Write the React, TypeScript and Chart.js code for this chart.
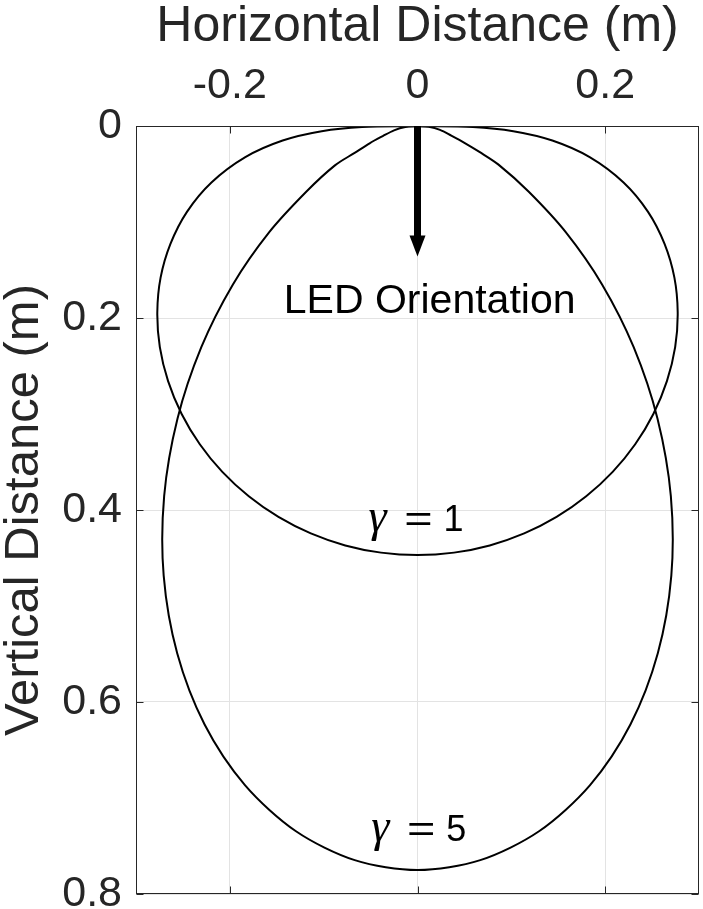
import React, { useEffect, useRef } from 'react';
import { Chart, registerables } from 'chart.js';

Chart.register(...registerables);

// ---- axes ----
const X_TICKS = [-0.2, 0, 0.2];
const Y_TICKS = [0, 0.2, 0.4, 0.6, 0.8];
const X_MIN = -0.3;
const X_MAX = 0.3;
const Y_MIN = 0;
const Y_MAX = 0.8;

// ---- gamma = 1 contour ----
const GAMMA1_X = [
  0, 0.059, 0.1021, 0.1437, 0.1835, 0.2196, 0.2457, 0.2633, 0.2738, 0.2773, 0.2746,
  0.2658, 0.2515, 0.232, 0.208, 0.1798, 0.1482, 0.1137, 0.077, 0.0389, 0,
  -0.0389, -0.077, -0.1137, -0.1482, -0.1798, -0.208, -0.232, -0.2515, -0.2658, -0.2746,
  -0.2773, -0.2738, -0.2633, -0.2457, -0.2196, -0.1835, -0.1437, -0.1021, -0.059, 0,
];
const GAMMA1_Y = [
  0, 0.001, 0.0054, 0.0151, 0.0324, 0.0588, 0.0894, 0.1228, 0.158, 0.1942, 0.2304,
  0.2658, 0.2997, 0.3315, 0.3603, 0.3857, 0.4072, 0.4244, 0.4369, 0.4444, 0.447,
  0.4444, 0.4369, 0.4244, 0.4072, 0.3857, 0.3603, 0.3315, 0.2997, 0.2658, 0.2304,
  0.1942, 0.158, 0.1228, 0.0894, 0.0588, 0.0324, 0.0151, 0.0054, 0.001, 0,
];

// ---- gamma = 5 contour ----
const GAMMA5_X = [
  0, 0.012, 0.024, 0.036, 0.05, 0.066, 0.086, 0.1186, 0.1582, 0.1967, 0.2304,
  0.2558, 0.27, 0.2705, 0.2561, 0.2269, 0.1839, 0.1295, 0.0669, 0,
  -0.0669, -0.1295, -0.1839, -0.2269, -0.2561, -0.2705, -0.27, -0.2558, -0.2304,
  -0.1967, -0.1582, -0.1186, -0.088, -0.067, -0.051, -0.037, -0.025, -0.013, 0,
];
const GAMMA5_Y = [
  0, 0.0008, 0.004, 0.01, 0.0175, 0.027, 0.04, 0.0685, 0.1108, 0.165, 0.2304,
  0.3049, 0.3856, 0.4684, 0.5492, 0.6234, 0.6865, 0.7346, 0.7647, 0.775,
  0.7647, 0.7346, 0.6865, 0.6234, 0.5492, 0.4684, 0.3856, 0.3049, 0.2304,
  0.165, 0.1108, 0.0685, 0.041, 0.028, 0.018, 0.0105, 0.0045, 0.001, 0,
];

// ---- annotations ----
const ARROW_X = [0, 0];
const ARROW_Y = [0, 0.136];
const LED_TEXT = 'LED Orientation';
const LED_POS = [-0.1425, 0.1946];
const GAMMA_VALUES = ['1', '5'];
const GAMMA_LABEL_X = [0, 0.003];
const GAMMA_LABEL_Y = [0.4222, 0.7447];

const SANS = '"Liberation Sans", Arial, Helvetica, sans-serif';
const AXIS_COLOR = '#262626';

const toPoints = (xs: number[], ys: number[]) => xs.map((x, i) => ({ x, y: ys[i] }));

const overlayPlugin = {
  id: 'overlay',
  afterDatasetsDraw(chart: any) {
    const { ctx, chartArea: a, scales } = chart;
    const sx = scales.x;
    const sy = scales.y;
    ctx.save();

    // box
    const L = Math.round(a.left) + 0.5;
    const R = Math.round(a.right) - 0.5;
    const T = Math.round(a.top) + 0.5;
    const B = Math.round(a.bottom) - 0.5;
    ctx.strokeStyle = AXIS_COLOR;
    ctx.lineWidth = 1;
    ctx.strokeRect(L, T, R - L, B - T);

    // inward ticks
    const tl = 7;
    ctx.beginPath();
    X_TICKS.forEach((v) => {
      const px = Math.round(sx.getPixelForValue(v)) + 0.5;
      ctx.moveTo(px, T);
      ctx.lineTo(px, T + tl);
      ctx.moveTo(px, B);
      ctx.lineTo(px, B - tl);
    });
    Y_TICKS.forEach((v) => {
      const py = Math.round(sy.getPixelForValue(v)) + 0.5;
      ctx.moveTo(L, py);
      ctx.lineTo(L + tl, py);
      ctx.moveTo(R, py);
      ctx.lineTo(R - tl, py);
    });
    ctx.stroke();

    // arrow
    const ax0 = sx.getPixelForValue(ARROW_X[0]);
    const ay0 = sy.getPixelForValue(ARROW_Y[0]);
    const ax1 = sx.getPixelForValue(ARROW_X[1]);
    const ay1 = sy.getPixelForValue(ARROW_Y[1]);
    const headLen = 21;
    const headHalf = 8;
    const shaftHalf = 3.5;
    ctx.fillStyle = '#000';
    ctx.fillRect(ax0 - shaftHalf, ay0, shaftHalf * 2, ay1 - headLen - ay0 + 1);
    ctx.beginPath();
    ctx.moveTo(ax1, ay1);
    ctx.lineTo(ax1 - headHalf, ay1 - headLen);
    ctx.lineTo(ax1 + headHalf, ay1 - headLen);
    ctx.closePath();
    ctx.fill();

    // LED Orientation
    ctx.fillStyle = '#000';
    ctx.textBaseline = 'alphabetic';
    ctx.textAlign = 'left';
    ctx.font = `41px ${SANS}`;
    ctx.fillText(LED_TEXT, sx.getPixelForValue(LED_POS[0]), sy.getPixelForValue(LED_POS[1]));

    // gamma labels
    GAMMA_VALUES.forEach((val, i) => {
      const cx = sx.getPixelForValue(GAMMA_LABEL_X[i]);
      const by = sy.getPixelForValue(GAMMA_LABEL_Y[i]);
      ctx.textAlign = 'left';
      ctx.font = `italic 46px "Liberation Serif", "Times New Roman", serif`;
      ctx.fillText('\u03B3', cx - 49, by);
      ctx.save();
      ctx.translate(cx - 12, by);
      ctx.scale(1.35, 1);
      ctx.font = `36px ${SANS}`;
      ctx.fillText('=', -1, 0);
      ctx.restore();
      ctx.font = `36px ${SANS}`;
      ctx.fillText(val, cx + 26, by);
    });

    ctx.restore();
  },
};

export default function App() {
  const canvasRef = useRef<HTMLCanvasElement | null>(null);

  useEffect(() => {
    document.body.style.margin = '0';
    const canvas = canvasRef.current;
    if (!canvas) return;
    const chart = new Chart(canvas, {
      type: 'scatter',
      data: {
        datasets: [
          {
            label: 'gamma = 1',
            data: toPoints(GAMMA1_X, GAMMA1_Y),
            showLine: true,
            borderColor: '#000',
            borderWidth: 2,
            pointRadius: 0,
            tension: 0.3,
            fill: false,
          },
          {
            label: 'gamma = 5',
            data: toPoints(GAMMA5_X, GAMMA5_Y),
            showLine: true,
            borderColor: '#000',
            borderWidth: 2,
            pointRadius: 0,
            tension: 0.3,
            fill: false,
          },
        ],
      },
      options: {
        responsive: false,
        animation: false,
        devicePixelRatio: 1,
        layout: { padding: { left: 0, top: 0, right: 4, bottom: 15 } },
        plugins: {
          legend: { display: false },
          tooltip: { enabled: false },
          title: { display: false },
        },
        scales: {
          x: {
            type: 'linear',
            position: 'top',
            min: X_MIN,
            max: X_MAX,
            afterBuildTicks: (scale: any) => {
              scale.ticks = X_TICKS.map((v) => ({ value: v }));
            },
            afterFit: (scale: any) => {
              scale.height = 126;
              scale.paddingLeft = 0;
              scale.paddingRight = 0;
            },
            grid: { color: '#e3e3e3', lineWidth: 1, drawTicks: false },
            border: { display: false },
            ticks: {
              padding: 14,
              color: AXIS_COLOR,
              font: { family: SANS, size: 43 },
              maxRotation: 0,
              callback: (v: any) => String(Math.round(Number(v) * 10) / 10),
            },
            title: {
              display: true,
              text: 'Horizontal Distance (m)',
              color: AXIS_COLOR,
              font: { family: SANS, size: 50, lineHeight: 1.1 },
              padding: 0,
            },
          },
          y: {
            type: 'linear',
            reverse: true,
            min: Y_MIN,
            max: Y_MAX,
            afterBuildTicks: (scale: any) => {
              scale.ticks = Y_TICKS.map((v) => ({ value: v }));
            },
            afterFit: (scale: any) => {
              scale.width = 136;
              scale.paddingTop = 0;
              scale.paddingBottom = 0;
            },
            grid: { color: '#e3e3e3', lineWidth: 1, drawTicks: false },
            border: { display: false },
            ticks: {
              padding: 14,
              color: AXIS_COLOR,
              font: { family: SANS, size: 43 },
              callback: (v: any) => String(Math.round(Number(v) * 10) / 10),
            },
            title: {
              display: true,
              text: 'Vertical Distance (m)',
              color: AXIS_COLOR,
              font: { family: SANS, size: 49, lineHeight: 1.0 },
              padding: 0,
            },
          },
        },
      },
      plugins: [overlayPlugin],
    });
    return () => chart.destroy();
  }, []);

  return (
    <div style={{ position: 'absolute', left: 0, top: 0, width: 703, height: 909 }}>
      <canvas ref={canvasRef} width={703} height={909} style={{ width: 703, height: 909, display: 'block' }} />
    </div>
  );
}
